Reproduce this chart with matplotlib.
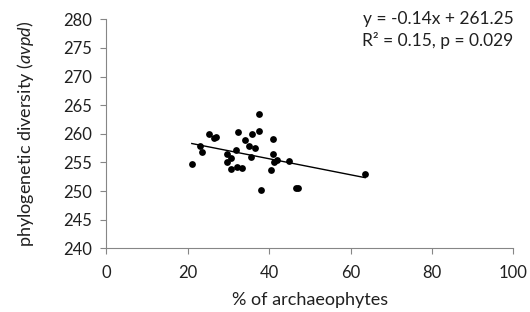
import numpy as np
import matplotlib
matplotlib.use("Agg")
from matplotlib import pyplot as plt

# values
archaeophytes = [21.0, 22.9, 23.4, 25.2, 26.5, 26.9, 29.6, 29.7, 30.6, 30.6,
                 31.8, 32.0, 32.4, 33.3, 34.0, 35.1, 35.5, 35.7, 36.6, 37.4,
                 37.4, 37.9, 40.9, 40.9, 40.5, 41.2, 41.9, 44.8, 46.5, 47.0, 63.6]
avpd = [254.8, 257.8, 256.8, 259.9, 259.3, 259.5, 256.4, 255.1, 255.7, 253.9,
        257.2, 254.2, 260.3, 254.0, 258.9, 257.9, 256.0, 260.0, 257.6, 263.5,
        260.5, 250.2, 259.1, 256.4, 253.6, 255.1, 255.4, 255.2, 250.6, 250.6, 253.0]
slope = -0.14
intercept = 261.25

plt.rcParams["font.family"] = ["Lato", "DejaVu Sans"]
plt.rcParams["mathtext.fontset"] = "custom"
plt.rcParams["mathtext.it"] = "Lato:italic"
plt.rcParams["mathtext.rm"] = "Lato"

fig = plt.figure(figsize=(5.3, 3.12), dpi=100)
ax = fig.add_axes([0.2006, 0.204, 0.768, 0.734])

x = np.array(archaeophytes)
ax.scatter(x, avpd, s=24, color="black", zorder=3, linewidths=0)
xl = np.array([x.min(), x.max()])
ax.plot(xl, slope * xl + intercept, color="black", lw=1)

ax.set_xlim(0, 100)
ax.set_ylim(240, 280)
ax.set_xticks(range(0, 101, 20))
ax.set_yticks(range(240, 281, 5))

for s in ["top", "right"]:
    ax.spines[s].set_visible(False)
for s in ["left", "bottom"]:
    ax.spines[s].set_color("#868686")
ax.tick_params(colors="#868686", labelcolor="#202020", labelsize=12, length=4)
ax.tick_params(axis="x", pad=8)
ax.tick_params(axis="y", pad=6)

ax.set_xlabel("% of archaeophytes", fontsize=13, color="#202020", labelpad=8)
ax.set_ylabel("phylogenetic diversity ($\\it{avpd}$)", fontsize=13, color="#202020", labelpad=20)

ax.text(1.0, 1.035, "y = -0.14x + 261.25\nR² = 0.15, p = 0.029", transform=ax.transAxes,
        ha="right", va="top", fontsize=12.5, color="#202020", linespacing=1.3)

fig.savefig("out.png", dpi=100)
